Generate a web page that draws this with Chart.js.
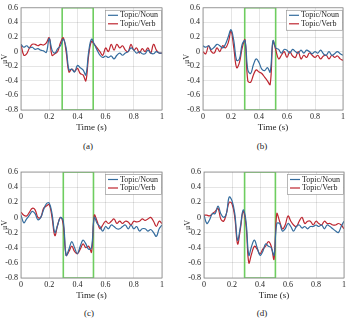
<!DOCTYPE html>
<html>
<head>
<meta charset="utf-8">
<script src="https://cdn.jsdelivr.net/npm/chart.js@4"></script>
<style>
  body { margin: 0; background: #fff; }
  #wrap { position: relative; width: 350px; height: 319px; overflow: hidden; }
  canvas { position: absolute; }
  .cap { position: absolute; font: 9px "Liberation Serif", serif; color: #222; transform: translate(-50%, -50%); }
</style>
</head>
<body>
<div id="wrap">
  <canvas id="chartA"></canvas>
  <canvas id="chartB"></canvas>
  <canvas id="chartC"></canvas>
  <canvas id="chartD"></canvas>
  <div class="cap" style="left:88px;top:146px">(a)</div>
  <div class="cap" style="left:262px;top:146px">(b)</div>
  <div class="cap" style="left:89px;top:313px">(c)</div>
  <div class="cap" style="left:262px;top:313px">(d)</div>
</div>
<script>
const times = [0, 0.02, 0.04, 0.06, 0.08, 0.10, 0.12, 0.14, 0.16, 0.18,
    0.20, 0.22, 0.24, 0.26, 0.28, 0.30, 0.32, 0.34, 0.36, 0.38,
    0.40, 0.42, 0.44, 0.46, 0.48, 0.50, 0.52, 0.54, 0.56, 0.58,
    0.60, 0.62, 0.64, 0.66, 0.68, 0.70, 0.72, 0.74, 0.76, 0.78,
    0.80, 0.82, 0.84, 0.86, 0.88, 0.90, 0.92, 0.94, 0.96, 0.98, 1.0];

const seriesLabels = ['Topic/Noun', 'Topic/Verb'];
const panelLabels = ['(a)', '(b)', '(c)', '(d)'];

// start / end of the highlighted window (s) per panel
const windowStart = [0.292, 0.298, 0.300, 0.290];
const windowEnd = [0.512, 0.519, 0.514, 0.510];

const nounA = [0.10, 0.06, 0.08, 0.05, 0.06, 0.03, 0.04, 0.02, 0.01, -0.01,
    0.18, 0.02, -0.02, 0.04, 0.08, 0.17, 0.05, -0.25, -0.24, -0.28,
    -0.19, -0.22, -0.25, -0.32, 0.00, 0.17, 0.10, 0.02, -0.05, -0.08,
    -0.06, -0.08, -0.06, -0.10, -0.05, -0.02, -0.05, -0.02, 0.00, 0.05,
    0.02, -0.02, 0.00, -0.03, -0.03, 0.02, -0.02, -0.03, 0.00, -0.02, -0.02];
const verbA = [0.10, -0.05, -0.03, 0.05, 0.10, 0.10, 0.08, 0.10, 0.09, 0.12,
    0.19, -0.05, -0.03, 0.00, 0.12, 0.19, 0.00, -0.28, -0.24, -0.27,
    -0.23, -0.30, -0.32, -0.40, -0.05, 0.14, 0.10, 0.05, 0.00, -0.05,
    0.05, 0.00, 0.10, 0.02, 0.10, 0.05, 0.08, 0.02, 0.00, 0.10,
    0.02, 0.05, -0.02, 0.04, 0.00, 0.05, -0.02, 0.10, 0.02, -0.02, -0.02];

const nounB = [0.08, 0.06, 0.08, 0.03, 0.06, 0.10, 0.08, 0.05, 0.10, 0.20,
    0.30, 0.15, -0.12, -0.10, 0.10, 0.15, -0.25, -0.30, -0.18, -0.10,
    -0.15, -0.24, -0.26, -0.22, -0.28, 0.15, 0.05, 0.03, -0.02, 0.03,
    0.02, -0.02, 0.03, 0.00, -0.02, 0.02, -0.02, 0.02, 0.00, -0.03,
    0.00, -0.02, 0.02, -0.03, -0.05, 0.00, -0.05, -0.03, 0.00, -0.03, -0.05];
const verbB = [0.00, -0.03, 0.08, 0.00, -0.02, 0.05, 0.00, 0.08, 0.05, 0.12,
    0.28, 0.05, -0.22, -0.15, 0.05, 0.16, -0.40, -0.42, -0.32, -0.25,
    -0.28, -0.30, -0.35, -0.40, -0.45, 0.14, 0.02, -0.10, -0.05, 0.00,
    -0.08, 0.00, -0.06, -0.08, 0.00, -0.10, -0.05, -0.08, -0.02, -0.05,
    -0.08, -0.05, -0.10, -0.06, -0.05, -0.10, -0.05, -0.08, -0.06, -0.10, -0.12];

const nounC = [0.03, -0.07, -0.02, 0.03, 0.08, 0.05, -0.03, 0.00, 0.10, 0.18,
    0.19, 0.05, -0.20, -0.10, 0.00, -0.05, -0.50, -0.42, -0.32, -0.40,
    -0.48, -0.38, -0.30, -0.35, -0.42, -0.40, 0.00, -0.08, -0.12, -0.18,
    -0.12, -0.15, -0.10, -0.12, -0.15, -0.15, -0.12, -0.10, -0.15, -0.10,
    -0.15, -0.12, -0.18, -0.15, -0.15, -0.18, -0.16, -0.20, -0.25, -0.15, -0.10];
const verbC = [0.07, 0.03, 0.02, 0.07, 0.12, 0.10, 0.00, 0.00, 0.12, 0.15,
    0.17, 0.00, -0.24, -0.10, 0.00, -0.10, -0.50, -0.45, -0.38, -0.45,
    -0.48, -0.42, -0.35, -0.40, -0.38, -0.46, 0.03, -0.05, -0.15, -0.10,
    -0.05, -0.08, -0.05, -0.02, -0.08, -0.05, -0.08, -0.05, -0.06, -0.10,
    -0.05, -0.06, -0.05, -0.02, -0.04, -0.02, 0.00, -0.05, -0.12, -0.05, -0.08];

const nounD = [0.03, -0.08, -0.03, 0.05, 0.05, 0.15, 0.05, 0.00, 0.05, 0.27,
    0.22, 0.05, -0.30, -0.12, 0.10, -0.05, -0.50, -0.38, -0.30, -0.40,
    -0.50, -0.45, -0.35, -0.38, -0.40, -0.50, -0.08, -0.08, -0.18, -0.15,
    -0.08, -0.12, -0.18, -0.12, -0.10, -0.14, -0.12, -0.15, -0.12, -0.12,
    -0.10, -0.12, -0.10, -0.15, -0.10, -0.12, -0.15, -0.18, -0.20, -0.12, -0.05];
const verbD = [0.03, 0.03, 0.02, 0.05, 0.08, 0.12, -0.02, -0.05, 0.05, 0.20,
    0.18, 0.00, -0.35, -0.15, 0.08, -0.10, -0.60, -0.48, -0.38, -0.42,
    -0.48, -0.42, -0.38, -0.32, -0.38, -0.55, 0.05, -0.05, -0.15, -0.10,
    0.02, -0.05, -0.10, -0.12, -0.05, 0.00, -0.08, -0.05, -0.05, -0.10,
    -0.05, -0.08, -0.10, -0.05, -0.08, -0.08, -0.10, -0.10, -0.08, -0.10, -0.15];

const yMin = -0.8, yMax = 0.6;

Chart.defaults.font.family = '"Liberation Serif", serif';
Chart.defaults.color = '#222';

const nounColor = 'rgb(52, 108, 158)';
const verbColor = 'rgb(190, 38, 48)';
const boxColor = 'rgb(110, 205, 95)';

// frame around the plot area (MATLAB "box on")
const frame = {
    id: 'frame',
    afterDraw(chart) {
        const { ctx, chartArea: a } = chart;
        ctx.save();
        ctx.strokeStyle = '#8a8a8a';
        ctx.lineWidth = 0.8;
        ctx.strokeRect(a.left, a.top, a.right - a.left, a.bottom - a.top);
        ctx.restore();
    }
};

// legend box drawn inside the upper right corner
const boxLegend = {
    id: 'boxLegend',
    afterDraw(chart) {
        const { ctx, chartArea } = chart;
        const w = 56, h = 20;
        const x = chartArea.right - w - 1, y = chartArea.top + 2;
        ctx.save();
        ctx.fillStyle = '#fff';
        ctx.fillRect(x, y, w, h);
        ctx.strokeStyle = '#999';
        ctx.lineWidth = 0.7;
        ctx.strokeRect(x + 0.5, y + 0.5, w, h);
        ctx.font = '8px "Liberation Serif", serif';
        ctx.textBaseline = 'middle';
        chart.data.datasets.slice(0, 2).forEach((ds, i) => {
            const ly = y + 5.5 + i * 8.5;
            ctx.strokeStyle = ds.borderColor;
            ctx.lineWidth = 1.2;
            ctx.beginPath();
            ctx.moveTo(x + 3, ly);
            ctx.lineTo(x + 13, ly);
            ctx.stroke();
            ctx.fillStyle = '#222';
            ctx.fillText(ds.label, x + 15, ly);
        });
        ctx.restore();
    }
};

function makePanel(id, pos, noun, verb, wStart, wEnd) {
    const canvas = document.getElementById(id);
    canvas.style.left = pos.left + 'px';
    canvas.style.top = pos.top + 'px';
    canvas.width = pos.width;
    canvas.height = pos.height;
    canvas.style.width = pos.width + 'px';
    canvas.style.height = pos.height + 'px';

    new Chart(canvas.getContext('2d'), {
        type: 'line',
        data: {
            datasets: [{
                label: seriesLabels[0],
                data: times.map((t, i) => ({ x: t, y: noun[i] })),
                borderColor: nounColor,
                borderWidth: 1.2,
                pointRadius: 0,
                tension: 0.4
            }, {
                label: seriesLabels[1],
                data: times.map((t, i) => ({ x: t, y: verb[i] })),
                borderColor: verbColor,
                borderWidth: 1.2,
                pointRadius: 0,
                tension: 0.4
            }, {
                label: 'window',
                data: [
                    { x: wStart, y: yMax }, { x: wStart, y: yMin },
                    { x: wEnd, y: yMin }, { x: wEnd, y: yMax }, { x: wStart, y: yMax }
                ],
                borderColor: boxColor,
                borderWidth: 1.6,
                pointRadius: 0,
                tension: 0
            }]
        },
        options: {
            responsive: false,
            animation: false,
            layout: { padding: pos.padding },
            plugins: { legend: { display: false }, tooltip: { enabled: false } },
            scales: {
                x: {
                    type: 'linear',
                    min: 0, max: 1,
                    ticks: { stepSize: 0.2, font: { size: 8 }, padding: 2, maxRotation: 0,
                        callback: v => String(+v.toFixed(1)) },
                    grid: { color: 'rgba(0,0,0,0.1)', drawTicks: false },
                    border: { display: false },
                    title: { display: true, text: 'Time (s)', font: { size: 9 }, padding: { top: 0, bottom: 2 } },
                    afterFit: s => { s.height = 25; }
                },
                y: {
                    min: yMin, max: yMax,
                    ticks: { stepSize: 0.2, font: { size: 8 }, padding: 3,
                        callback: v => String(+v.toFixed(1)) },
                    grid: { color: 'rgba(0,0,0,0.1)', drawTicks: false },
                    border: { display: false },
                    title: { display: true, text: 'μV', font: { size: 8 }, padding: 0 },
                    afterFit: s => { s.width = 21; }
                }
            }
        },
        plugins: [frame, boxLegend]
    });
}

makePanel('chartA', { left: 0, top: 0, width: 175, height: 135,
    padding: { left: 0, right: 13, top: 5, bottom: 0 } }, nounA, verbA, windowStart[0], windowEnd[0]);
makePanel('chartB', { left: 175, top: 0, width: 175, height: 135,
    padding: { left: 7, right: 7, top: 5, bottom: 0 } }, nounB, verbB, windowStart[1], windowEnd[1]);
makePanel('chartC', { left: 0, top: 160, width: 175, height: 143,
    padding: { left: 0, right: 13, top: 12, bottom: 0 } }, nounC, verbC, windowStart[2], windowEnd[2]);
makePanel('chartD', { left: 175, top: 160, width: 175, height: 143,
    padding: { left: 8, right: 6, top: 12, bottom: 0 } }, nounD, verbD, windowStart[3], windowEnd[3]);
</script>
</body>
</html>
